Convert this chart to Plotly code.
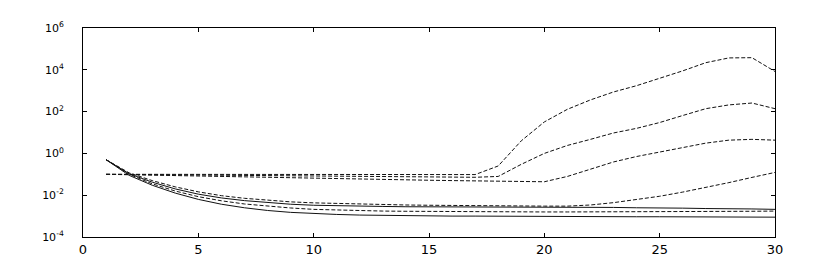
import plotly.graph_objects as go

iterations = list(range(1, 31))

# lower group (start at 0.5)
lower_dash_1 = [0.50, 0.117, 0.050, 0.025, 0.0145, 0.0095, 0.0071, 0.0056, 0.0048, 0.0043,
                0.0040, 0.0037, 0.0035, 0.0034, 0.0033, 0.0032, 0.0032, 0.0031, 0.0031, 0.0030,
                0.0030, 0.0034, 0.0044, 0.0062, 0.0089, 0.0141, 0.0234, 0.040, 0.071, 0.123]
lower_solid_1 = [0.50, 0.107, 0.042, 0.020, 0.0112, 0.0074, 0.0055, 0.0044, 0.0037, 0.0033,
                 0.0031, 0.0030, 0.0029, 0.0028, 0.0028, 0.00275, 0.00275, 0.00275, 0.0027, 0.0027,
                 0.0027, 0.0026, 0.0026, 0.0025, 0.0025, 0.0024, 0.0023, 0.0023, 0.0022, 0.0021]
lower_dash_2 = [0.50, 0.100, 0.035, 0.0158, 0.0085, 0.0054, 0.0038, 0.0030, 0.00245, 0.0021,
                0.00195, 0.0018, 0.00174, 0.0017, 0.00166, 0.00162, 0.00162, 0.00158, 0.00158, 0.00158,
                0.00158, 0.00158, 0.00158, 0.00158, 0.00158, 0.00158, 0.00162, 0.00166, 0.0017, 0.00174]
lower_solid_2 = [0.50, 0.089, 0.030, 0.0126, 0.0063, 0.0037, 0.0025, 0.00186, 0.00151, 0.00132,
                 0.0012, 0.00112, 0.00107, 0.00105, 0.00102, 0.00100, 0.00100, 0.00098, 0.00098, 0.00095,
                 0.00095, 0.00095, 0.00093, 0.00093, 0.00093, 0.00091, 0.00091, 0.00091, 0.00089, 0.00089]

# upper group (start at 0.1)
upper_dash_a = [0.100, 0.100, 0.100, 0.100, 0.100, 0.098, 0.098, 0.098, 0.098, 0.096,
                0.096, 0.096, 0.096, 0.095, 0.094, 0.095, 0.097, 0.25, 4.0, 32,
                129, 363, 870, 1740, 3890, 8900, 21900, 37000, 38000, 8300]
upper_dash_b = [0.100, 0.098, 0.096, 0.094, 0.092, 0.090, 0.089, 0.087, 0.085, 0.083,
                0.082, 0.080, 0.078, 0.077, 0.075, 0.074, 0.072, 0.079, 0.30, 1.0,
                2.4, 4.7, 9.5, 15.8, 30, 65, 138, 209, 257, 138]
upper_dash_c = [0.100, 0.095, 0.091, 0.087, 0.083, 0.079, 0.076, 0.072, 0.069, 0.066,
                0.063, 0.060, 0.058, 0.055, 0.052, 0.050, 0.048, 0.046, 0.044, 0.044,
                0.079, 0.174, 0.39, 0.71, 1.17, 1.78, 3.1, 4.3, 4.7, 4.3]

y_tick_vals = [1e-4, 1e-2, 1e0, 1e2, 1e4, 1e6]
y_tick_text = ["10<sup>-4</sup>", "10<sup>-2</sup>", "10<sup>0</sup>",
               "10<sup>2</sup>", "10<sup>4</sup>", "10<sup>6</sup>"]
x_tick_vals = [0, 5, 10, 15, 20, 25, 30]

series = [
    (upper_dash_a, "4px,2px"),
    (upper_dash_b, "4px,2px"),
    (upper_dash_c, "4px,2px"),
    (lower_dash_1, "4px,2px"),
    (lower_solid_1, "solid"),
    (lower_dash_2, "4px,2px"),
    (lower_solid_2, "solid"),
]

fig = go.Figure()
for ys, dash in series:
    fig.add_trace(go.Scatter(x=iterations, y=ys, mode="lines",
                             line=dict(color="#111111", width=1, dash=dash),
                             showlegend=False, hoverinfo="skip"))

# the page body has an 8px default margin; size the figure so it fits the window
fig.update_layout(
    width=814, height=261,
    margin=dict(l=75, r=47, t=16, b=24),
    paper_bgcolor="white", plot_bgcolor="white",
    font=dict(family="DejaVu Sans", size=11, color="black"),
)
fig.update_xaxes(range=[0, 30], tickvals=x_tick_vals, ticks="inside", ticklen=4,
                 showline=True, linecolor="black", linewidth=1, mirror="ticks",
                 showgrid=False, zeroline=False, tickcolor="black",
                 tickfont=dict(size=13))
fig.update_yaxes(type="log", range=[-4, 6], tickvals=y_tick_vals, ticktext=y_tick_text,
                 ticks="inside", ticklen=4, showline=True, linecolor="black", linewidth=1,
                 mirror="ticks", showgrid=False, zeroline=False, tickcolor="black",
                 ticklabelstandoff=16, tickfont=dict(size=11))

fig.write_html("out.html")
